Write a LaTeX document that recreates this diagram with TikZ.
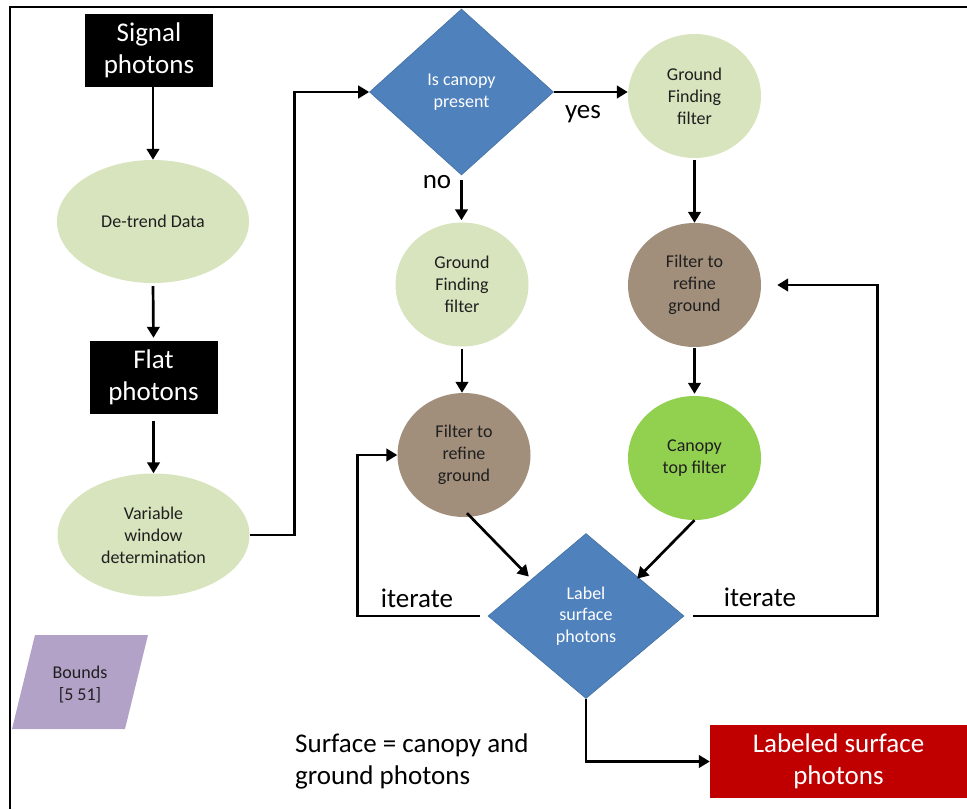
\documentclass[tikz,border=0pt]{standalone}
\usepackage{fontspec}
\setmainfont{Carlito}
\usetikzlibrary{shapes.geometric,arrows.meta}
\definecolor{lgreen}{HTML}{D7E4BD}
\definecolor{bgreen}{HTML}{92D050}
\definecolor{brownc}{HTML}{A28F7B}
\definecolor{bluec}{HTML}{4F81BD}
\definecolor{blueb}{HTML}{41709F}
\definecolor{redc}{HTML}{C00000}
\definecolor{purplec}{HTML}{B3A2C7}
\definecolor{txt}{HTML}{1F1F1F}
\tikzset{
  blackbox/.style={rectangle, fill=black, text=white, minimum width=128pt, minimum height=73pt, inner sep=0pt, align=center, font=\fontsize{27}{32}\selectfont},
  oval/.style={ellipse, fill=lgreen, text=txt, minimum width=192pt, minimum height=123pt, inner sep=0pt, align=center, font=\fontsize{18}{22}\selectfont},
  circ/.style={ellipse, text=txt, minimum width=133pt, minimum height=124pt, inner sep=0pt, align=center, font=\fontsize{18}{22}\selectfont},
  decide/.style={diamond, fill=bluec, draw=blueb, line width=0.6pt, text=white, inner sep=0pt, align=center, font=\fontsize{18}{21.5}\selectfont},
  lbl/.style={font=\fontsize{27}{32}\selectfont, text=black, inner sep=0pt},
  arr/.style={line width=2.7pt, -{Triangle[length=11pt,width=12.5pt]}}
}
\begin{document}
\begin{tikzpicture}[x=1pt,y=-1pt]
\useasboundingbox (0,0) rectangle (967,809);
\draw[line width=2.4pt] (10,809) -- (10,7) -- (967,7);

% left column
\node[blackbox] (sig) at (149,50.5) {Signal\\photons};
\node[oval] (detrend) at (153,221.5) {De-trend Data};
\node[blackbox] (flat) at (153.5,377.5) {Flat\\photons};
\node[oval] (varwin) at (153.5,535) {Variable\\window\\determination};

% bounds parallelogram
\fill[purplec] (35,635) -- (148,635) -- (125,729) -- (12,729) -- cycle;
\node[font=\fontsize{18}{22}\selectfont, text=txt, align=center] (bounds) at (80,684) {Bounds\\{[5 51]}};

% decisions
\node[decide, minimum width=184pt, minimum height=166pt] (canopyq) at (461.5,92) {Is canopy\\present};
\node[decide, minimum width=196pt, minimum height=165pt] (lsp) at (586,616) {Label\\surface\\photons};

% circles
\node[circ, fill=lgreen] (gfl) at (462,284.5) {Ground\\Finding\\filter};
\node[circ, fill=brownc] (ffl) at (464,455) {Filter to\\refine\\ground};
\node[circ, fill=lgreen] (gfr) at (694.5,96) {Ground\\Finding\\filter};
\node[circ, fill=brownc] (ffr) at (694.5,285) {Filter to\\refine\\ground};
\node[circ, fill=bgreen] (ctf) at (694.5,458) {Canopy\\top filter};

% output
\node[rectangle, fill=redc, text=white, minimum width=257pt, minimum height=73pt, inner sep=0pt, align=center, font=\fontsize{27}{32}\selectfont] (lsb) at (838.5,761.5) {Labeled surface\\photons};

% labels
\node[lbl, anchor=base] (nolbl) at (437,188) {no};
\node[lbl, anchor=base] (yeslbl) at (583,118) {yes};
\node[lbl, anchor=base] (itl) at (417,607) {iterate};
\node[lbl, anchor=base] (itr) at (760,606) {iterate};
\node[lbl, anchor=base west, align=left] (surf) at (295,784) {Surface = canopy and\\ground photons};

% connectors
\draw[arr] ([yshift=10pt]detrend.north |- sig.south) -- (detrend.north);
\draw[arr, shorten <=3pt, shorten >=3pt] (detrend.south) -- (flat.north);
\draw[arr, shorten <=7pt] (flat.south) -- (varwin.north);
\draw[arr] (varwin.east) -- ++(45,0) |- (canopyq.west);
\draw[arr, shorten <=5pt, shorten >=2pt] (canopyq.south) -- (canopyq.south |- gfl.north);
\draw[arr] (canopyq.east) -- (canopyq.east -| gfr.west);
\draw[arr, shorten <=2pt] (gfl.south) -- (gfl.south |- ffl.north);
\draw[arr, shorten <=2pt] (gfr.south) -- (gfr.south |- ffr.north);
\draw[arr, shorten <=1pt, shorten >=2pt] (ffr.south) -- (ffr.south |- ctf.north);
\draw[arr] ([shift={(3pt,4pt)}]ffl.south) -- ([shift={(-8pt,-2pt)}]lsp.north west);
\draw[arr] (ctf.south) -- ([shift={(2pt,-4pt)}]lsp.north east);
\draw[arr] ([xshift=-8pt]lsp.west) -- ++(-122,0) |- (ffl.west);
\draw[arr] ([xshift=9pt]lsp.east) -- ++(184,0) |- ([xshift=16pt]ffr.east);
\draw[arr] (lsp.south) |- (lsb.west);
\end{tikzpicture}
\end{document}
